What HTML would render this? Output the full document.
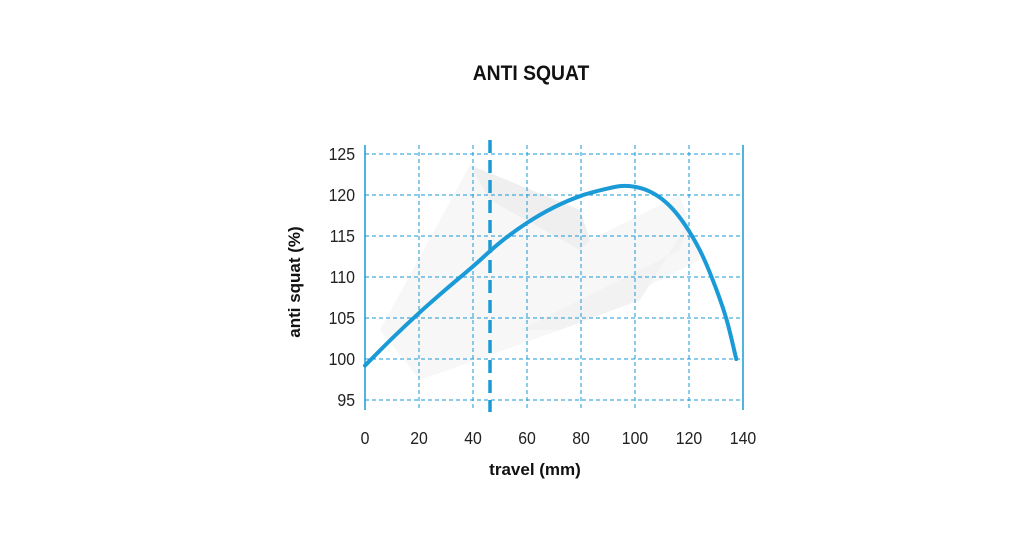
<!DOCTYPE html>
<html><head><meta charset="utf-8"><style>
body{margin:0;background:#fff;width:1024px;height:536px;overflow:hidden;font-family:"Liberation Sans",sans-serif}
</style></head><body>
<svg width="1024" height="536" viewBox="0 0 1024 536">
<text x="531" y="80" text-anchor="middle" font-size="21" font-weight="bold" fill="#111" transform="translate(531,0) scale(0.92,1) translate(-531,0)">ANTI SQUAT</text>
<g id="bg" opacity="0.45">
<polygon points="380,330 470,165 580,210 590,240 680,195 700,260 560,330 420,380" fill="#eee"/>
<polygon points="470,165 490,200 580,250 590,240 580,210" fill="#ddd"/>
<polygon points="520,330 600,290 680,250 690,220 640,300 560,330" fill="#e3e3e3"/>
</g>
<g id="grid"></g>
<g id="marks"></g>
<text x="300" y="282" text-anchor="middle" font-size="17" font-weight="bold" fill="#111" transform="rotate(-90 300 282)">anti squat (%)</text>
<text x="535" y="475" text-anchor="middle" font-size="17" font-weight="bold" fill="#111">travel (mm)</text>
</svg>
<script>
const xTicks=[0,20,40,60,80,100,120,140];
const yTicks=[95,100,105,110,115,120,125];
const travel=[0,10,20,30,40,50,60,70,80,90,95,100,105,110,115,120,125,130,134,137.5];
const antiSquat=[99.2,102.5,105.6,108.5,111.3,114.2,116.6,118.5,119.9,120.8,121.1,121.0,120.5,119.5,117.9,115.6,112.6,108.6,104.7,100];
const markerTravel=46.3;
const NS="http://www.w3.org/2000/svg";
const x=v=>365+(v-0)*(743-365)/140;
const y=v=>154+(125-v)*(400-154)/30;
const grid=document.getElementById('grid'),marks=document.getElementById('marks');
function mk(p,tag,a){const e=document.createElementNS(NS,tag);for(const k in a)e.setAttribute(k,a[k]);p.appendChild(e);return e;}
const blue="#1a9ad6";
xTicks.forEach(t=>{
 const solid=(t===0||t===140);
 const l=mk(grid,'line',{x1:x(t),x2:x(t),y1:145,y2:410,stroke:blue,'stroke-width':solid?1.5:1,'stroke-dasharray':solid?'none':'4,3'});
 
 
 const tx=mk(grid,'text',{x:0,y:444,'text-anchor':'middle','font-size':'18',fill:'#222',transform:`translate(${x(t)},0) scale(0.88,1)`});
 tx.textContent=t;
 
 
});
yTicks.forEach(t=>{
 const l=mk(grid,'line',{x1:x(0),x2:x(140),y1:y(t),y2:y(t),stroke:blue,'stroke-width':1,'stroke-dasharray':'4,3'});
 
 
 const tx=mk(grid,'text',{x:0,y:y(t)+6,'text-anchor':'end','font-size':'18',fill:'#222',transform:`translate(355,0) scale(0.88,1)`});
 tx.textContent=t;
 
 
});
const dl=mk(marks,'line',{x1:x(markerTravel),x2:x(markerTravel),y1:140,y2:412,stroke:blue,'stroke-width':3.5,'stroke-dasharray':'13,7'});


const pts=travel.map((t,i)=>[x(t),y(antiSquat[i])]);
let d=`M${pts[0][0]},${pts[0][1]}`;
for(let i=0;i<pts.length-1;i++){const p0=pts[Math.max(0,i-1)],p1=pts[i],p2=pts[i+1],p3=pts[Math.min(pts.length-1,i+2)];
 d+=` C${p1[0]+(p2[0]-p0[0])/6},${p1[1]+(p2[1]-p0[1])/6} ${p2[0]-(p3[0]-p1[0])/6},${p2[1]-(p3[1]-p1[1])/6} ${p2[0]},${p2[1]}`;}
const c=mk(marks,'path',{d:d,fill:'none',stroke:blue,'stroke-width':4,'stroke-linecap':'round'});


</script>
</body></html>
